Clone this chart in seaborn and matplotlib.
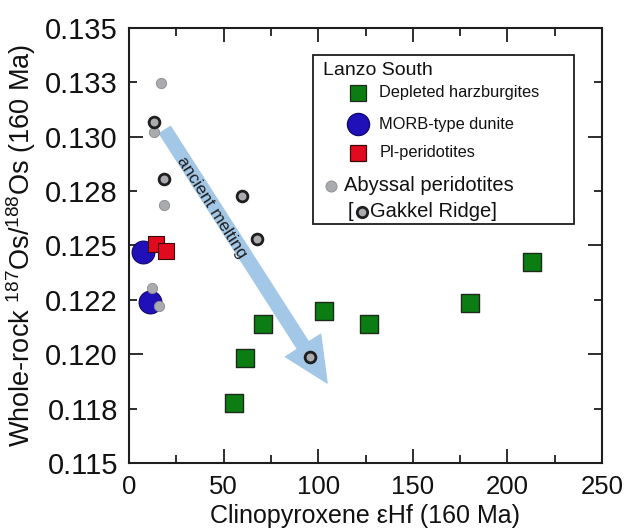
import matplotlib
matplotlib.use("Agg")
import matplotlib.pyplot as plt
from matplotlib.ticker import FixedLocator, FixedFormatter
from matplotlib.patches import Rectangle
import seaborn as sns

# Depleted harzburgites
harz_x = [55.5, 61.3, 70.8, 103.1, 126.8, 180.2, 213.0]
harz_y = [0.11776, 0.11983, 0.12139, 0.12199, 0.12139, 0.12236, 0.12424]

# MORB-type dunite
dunite_x = [7.4, 11.1]
dunite_y = [0.12470, 0.12240]

# Pl-peridotites
pl_x = [14.3, 19.5]
pl_y = [0.12507, 0.12475]

# Abyssal peridotites
aby_x = [16.9, 13.2, 18.5, 12.2, 15.9]
aby_y = [0.13247, 0.13022, 0.12686, 0.12305, 0.12222]

# Gakkel Ridge
gak_x = [13.2, 18.5, 59.7, 67.7, 95.7]
gak_y = [0.13068, 0.12806, 0.12728, 0.12530, 0.11987]

x_ticks = [0, 50, 100, 150, 200, 250]
x_minor = [25, 75, 125, 175, 225]
y_major = [0.115, 0.120, 0.125, 0.130, 0.135]
y_major_labels = ["0.115", "0.120", "0.125", "0.130", "0.135"]
y_minor = [0.1175, 0.1225, 0.1275, 0.1325]
y_minor_labels = ["0.118", "0.122", "0.128", "0.133"]

sns.set_theme(style="ticks")
plt.rcParams["font.family"] = ["Liberation Sans", "DejaVu Sans"]
plt.rcParams["mathtext.fontset"] = "custom"
plt.rcParams["mathtext.rm"] = "Liberation Sans"
plt.rcParams["mathtext.it"] = "Liberation Sans:italic"
plt.rcParams["text.color"] = "#111111"
plt.rcParams["axes.labelcolor"] = "#111111"
plt.rcParams["xtick.labelcolor"] = "#111111"
plt.rcParams["ytick.labelcolor"] = "#111111"

fig = plt.figure(figsize=(6.25, 5.32), dpi=100)
ax = fig.add_axes([0.2064, 0.1297, 0.7568, 0.8177])

GREEN = "#0b7d12"
BLUE = "#1f10b8"
RED = "#e10a1e"
GRAY = "#a9abae"
DARK = "#1e1e1e"

# arrow behind everything
ax.annotate("", xy=(104.7, 0.11868), xytext=(19.0, 0.13031),
            arrowprops=dict(arrowstyle="simple,head_length=32,head_width=30,tail_width=9.5",
                            mutation_scale=1, color="#a3c7e6", shrinkA=0, shrinkB=0),
            zorder=1)
ax.text(43.9, 0.12677, "ancient melting", rotation=-57.6, rotation_mode="anchor",
        ha="center", va="center", fontsize=12.5, color=DARK, zorder=2)

sns.scatterplot(x=dunite_x, y=dunite_y, ax=ax, marker="o", s=270, color=BLUE,
                edgecolor="#10086a", linewidth=0.8, zorder=3)
sns.scatterplot(x=pl_x, y=pl_y, ax=ax, marker="s", s=140, color=RED,
                edgecolor="#3a0a0a", linewidth=0.8, zorder=4)
sns.scatterplot(x=harz_x, y=harz_y, ax=ax, marker="s", s=160, color=GREEN,
                edgecolor="#1c2a1c", linewidth=1.0, zorder=4)
sns.scatterplot(x=aby_x, y=aby_y, ax=ax, marker="o", s=55, color=GRAY,
                edgecolor="#8a8c90", linewidth=0.6, zorder=5)
sns.scatterplot(x=gak_x, y=gak_y, ax=ax, marker="o", s=60, color=GRAY,
                edgecolor=DARK, linewidth=2.0, zorder=6)

ax.set_xlim(0, 250)
ax.set_ylim(0.115, 0.135)
ax.xaxis.set_major_locator(FixedLocator(x_ticks))
ax.xaxis.set_minor_locator(FixedLocator(x_minor))
ax.yaxis.set_major_locator(FixedLocator(y_major))
ax.yaxis.set_major_formatter(FixedFormatter(y_major_labels))
ax.yaxis.set_minor_locator(FixedLocator(y_minor))
ax.yaxis.set_minor_formatter(FixedFormatter(y_minor_labels))

ax.tick_params(which="both", direction="in", top=True, right=True,
               width=1.3, color=DARK)
ax.tick_params(which="major", length=10)
ax.tick_params(which="minor", length=6)
ax.tick_params(axis="x", which="both", labelsize=18.5, pad=9)
ax.tick_params(axis="y", which="both", labelsize=21, pad=8)
for sp in ax.spines.values():
    sp.set_linewidth(1.5)
    sp.set_color(DARK)

ax.set_xlabel("Clinopyroxene \u03b5Hf (160 Ma)", fontsize=18, labelpad=3)
ax.set_ylabel(r"Whole-rock $^{187}$Os/$^{188}$Os (160 Ma)", fontsize=19.5, labelpad=5)

# custom legend box
T = ax.transAxes
ax.add_patch(Rectangle((0.389, 0.549), 0.552, 0.389, transform=T, fill=False,
                       edgecolor=DARK, linewidth=1.3, zorder=7))
ax.text(0.410, 0.903, "Lanzo South", transform=T, fontsize=14, ha="left", va="center", zorder=8)
legend_rows = [
    (0.851, "s", 12, GREEN, "#1c2a1c", "Depleted harzburgites"),
    (0.779, "o", 16, BLUE, "#10086a", "MORB-type dunite"),
    (0.713, "s", 11.5, RED, "#3a0a0a", "Pl-peridotites"),
]
for yy, mk, ms, fc, ec, label in legend_rows:
    ax.plot([0.484], [yy], transform=T, marker=mk, ms=ms, mfc=fc, mec=ec,
            mew=0.9, ls="none", zorder=8)
    ax.text(0.529, yy, label, transform=T, fontsize=11.8, ha="left", va="center", zorder=8)
ax.plot([0.427], [0.637], transform=T, marker="o", ms=8, mfc=GRAY, mec="#8a8c90",
        mew=0.6, ls="none", zorder=8)
ax.text(0.455, 0.637, "Abyssal peridotites", transform=T, fontsize=14.5,
        ha="left", va="center", zorder=8)
ax.text(0.462, 0.577, "[", transform=T, fontsize=14.5, ha="left", va="center", zorder=8)
ax.plot([0.493], [0.577], transform=T, marker="o", ms=7.5, mfc=GRAY, mec=DARK,
        mew=2.0, ls="none", zorder=8)
ax.text(0.510, 0.577, "Gakkel Ridge]", transform=T, fontsize=14.5,
        ha="left", va="center", zorder=8)

fig.savefig("out.png", dpi=100)
